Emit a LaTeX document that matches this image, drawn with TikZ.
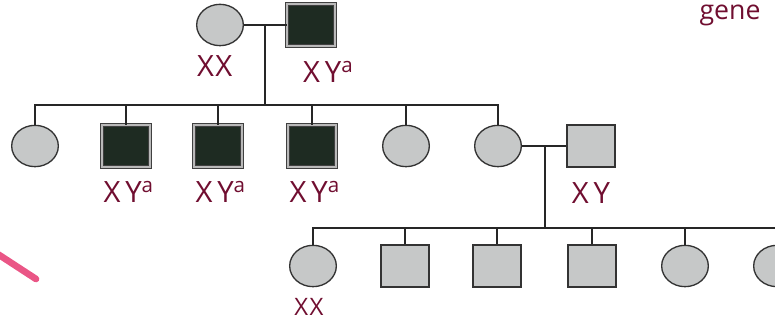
\documentclass[tikz,border=0pt]{standalone}
\usepackage{fontspec}
\setsansfont{Open Sans}
\usetikzlibrary{shapes.geometric,positioning}

\definecolor{unaff}{RGB}{198,200,200}
\definecolor{aff}{RGB}{30,43,34}
\definecolor{ink}{RGB}{112,14,48}
\definecolor{marker}{RGB}{234,86,134}

\tikzset{every picture/.style={line width=0.75pt}}
\tikzset{
	female/.style={ellipse, draw=black!80, fill=unaff, line width=1pt, minimum width=35pt, minimum height=31pt, inner sep=0pt},
	male/.style={rectangle, draw=black!80, fill=unaff, line width=1pt, minimum width=36pt, minimum height=31.5pt, inner sep=0pt},
	affmale/.style={male, fill=aff, draw=black!75, line width=0.6pt, double=gray!55, double distance=1.3pt},
	geno/.style={text=ink, font=\sffamily\fontsize{22}{24}\selectfont, inner sep=0.75pt},
	link/.style={draw=black!85, line width=1.2pt}
}

\begin{document}
\begin{tikzpicture}[x=0.75pt,y=0.75pt,yscale=-1,xscale=1]
		\useasboundingbox (0,0) rectangle (775,320);
		
		%Shape: Parents
		\node[female] (f0) at (220,25) {};
		\node[affmale] (m0) at (311,25) {};
		\coordinate (c0) at (265,25);
		\coordinate (bar0) at (265,105);
		\draw[link] (f0) -- (m0);
		\draw[link] (c0) -- (bar0);
		
		%Shape: Children
		\foreach \n/\x/\s in {1/35/female,2/126/affmale,3/218/affmale,4/312/affmale,5/406/female,6/498/female}
		{
			\node[\s] (k\n) at (\x,146) {};
			\draw[link] (k\n.north) |- (bar0);
		}
		
		%Shape: Spouse and grandchildren
		\node[male] (s1) at (591,146) {};
		\coordinate (c1) at (545,146);
		\coordinate (bar1) at (545,228);
		\draw[link] (k6) -- (s1);
		\draw[link] (c1) -- (bar1);
		\foreach \n/\x/\s in {1/313/female,2/405/male,3/497/male,4/592/male,5/685/female,6/777/female}
		{
			\node[\s] (g\n) at (\x,266) {};
			\draw[link] (g\n.north) |- (bar1);
		}
		
		% Text Node
		\node[geno, below=6pt of f0, xshift=-4pt] (t0) {X\kern1pt X};
		% Text Node
		\node[geno, below=10pt of m0, xshift=13pt] (t1) {X\,Y\textsuperscript{a}};
		% Text Node
		\foreach \n in {2,3,4}
			\node[geno, below=9pt of k\n, xshift=2pt] (t\n) {X\,Y\textsuperscript{a}};
		% Text Node
		\node[geno, below=10pt of s1] (ts) {X\,Y};
		% Text Node
		\node[geno, font=\sffamily\fontsize{18}{19}\selectfont, below=7pt of g1, xshift=-3pt] (tg) {X\kern1pt X};
		% Text Node
		\node[text=ink, font=\sffamily\fontsize{20}{22}\selectfont, inner sep=0.75pt] (gn) at (730,15) {gene};
		
		%Straight Lines: pink marker stroke
		\draw[marker, line width=5pt, line cap=round] (-10,249) -- (36,279);
		
	\end{tikzpicture}
\end{document}
